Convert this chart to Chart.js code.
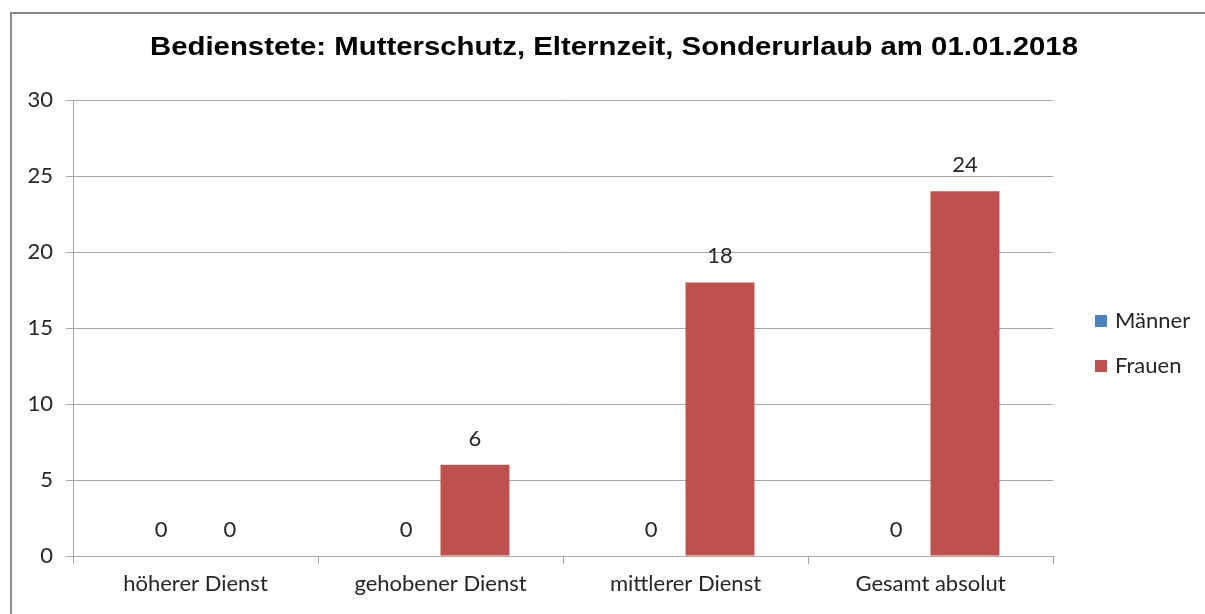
<!DOCTYPE html>
<html>
<head>
<meta charset="utf-8">
<script src="https://cdn.jsdelivr.net/npm/chart.js@4.4.0/dist/chart.umd.min.js"></script>
<style>
  html, body { margin: 0; padding: 0; background: #fff; }
  #wrap { position: relative; width: 1205px; height: 614px; }
</style>
</head>
<body>
<div id="wrap"><canvas id="chart"></canvas></div>
<script>
// Daten
const categories = ['höherer Dienst', 'gehobener Dienst', 'mittlerer Dienst', 'Gesamt absolut'];
const maenner = [0, 0, 0, 0];
const frauen = [0, 6, 18, 24];
const seriesNames = ['Männer', 'Frauen'];
const seriesColors = ['#4F81BD', '#C0504D'];
const yTicks = [0, 5, 10, 15, 20, 25, 30];
const titleText = 'Bedienstete: Mutterschutz, Elternzeit, Sonderurlaub am 01.01.2018';

const labelFont = '22px Lato';
const textColor = '#262626';
const gridColor = '#A6A6A6';

// Titel, Werte über den Balken, Rahmen und Legende rechts
const extrasPlugin = {
    id: 'extras',
    afterDatasetsDraw: function(chart) {
        const ctx = chart.ctx;
        ctx.save();
        ctx.font = labelFont;
        ctx.fillStyle = textColor;
        ctx.textAlign = 'center';
        ctx.textBaseline = 'middle';
        chart.data.datasets.forEach(function(ds, i) {
            chart.getDatasetMeta(i).data.forEach(function(bar, j) {
                ctx.fillText(ds.data[j], bar.x, bar.y - 26);
            });
        });
        ctx.restore();
    },
    afterDraw: function(chart) {
        const ctx = chart.ctx;
        ctx.save();
        // Rahmen
        ctx.strokeStyle = '#8C8C8C';
        ctx.lineWidth = 2;
        ctx.strokeRect(11, 13, 1400, 800);

        // Titel (etwas breiter gezogen wie im Original)
        ctx.font = 'bold 26px "Liberation Sans"';
        ctx.fillStyle = '#000';
        ctx.textAlign = 'center';
        ctx.textBaseline = 'middle';
        const w = ctx.measureText(titleText).width;
        const sx = 928 / w;
        ctx.translate(614, 48);
        ctx.scale(sx, 1);
        ctx.fillText(titleText, 0, 0);
        ctx.setTransform(1, 0, 0, 1, 0, 0);

        // Legende
        ctx.font = labelFont;
        ctx.textAlign = 'left';
        ctx.textBaseline = 'middle';
        const ys = [321, 366];
        seriesNames.forEach(function(name, i) {
            ctx.fillStyle = seriesColors[i];
            ctx.fillRect(1095, ys[i] - 6, 12, 12);
            ctx.fillStyle = textColor;
            ctx.fillText(name, 1115, ys[i]);
        });
        ctx.restore();
    }
};

const ctx = document.getElementById('chart').getContext('2d');
new Chart(ctx, {
    type: 'bar',
    data: {
        labels: categories,
        datasets: [{
            label: seriesNames[0],
            data: maenner,
            backgroundColor: seriesColors[0],
            categoryPercentage: 0.563,
            barPercentage: 1
        }, {
            label: seriesNames[1],
            data: frauen,
            backgroundColor: seriesColors[1],
            categoryPercentage: 0.563,
            barPercentage: 1
        }]
    },
    options: {
        responsive: true,
        maintainAspectRatio: false,
        animation: false,
        layout: {
            padding: { top: 100, left: 10, right: 152, bottom: 0 }
        },
        plugins: {
            legend: { display: false },
            tooltip: { enabled: false },
            title: { display: false }
        },
        scales: {
            x: {
                grid: {
                    drawOnChartArea: false,
                    drawTicks: true,
                    tickLength: 8,
                    color: gridColor,
                    offset: true
                },
                border: { color: gridColor },
                ticks: {
                    color: textColor,
                    font: { family: 'Lato', size: 22 },
                    padding: 7
                },
                afterFit: function(scale) { scale.height = 58; }
            },
            y: {
                min: 0,
                max: 30,
                afterBuildTicks: function(scale) {
                    scale.ticks = yTicks.map(function(v) { return { value: v }; });
                },
                grid: {
                    color: gridColor,
                    tickLength: 7
                },
                border: { color: gridColor },
                ticks: {
                    color: textColor,
                    font: { family: 'Lato', size: 22 },
                    padding: 13
                },
                afterFit: function(scale) { scale.width = 63; }
            }
        }
    },
    plugins: [extrasPlugin]
});
</script>
</body>
</html>
